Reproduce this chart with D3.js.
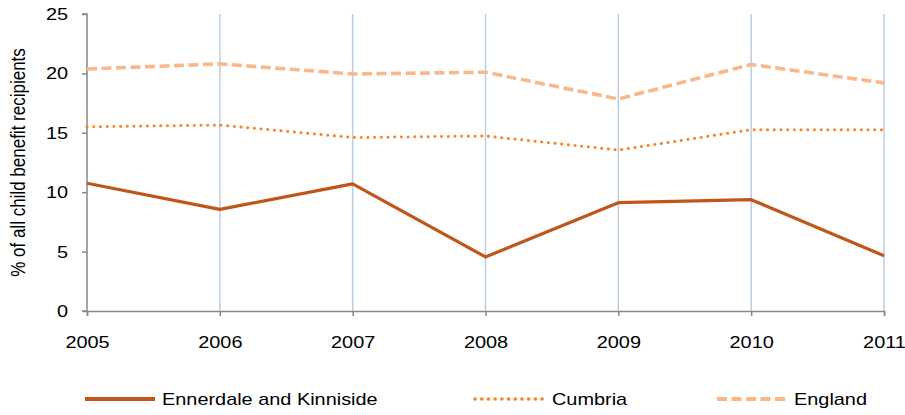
<!DOCTYPE html>
<html><head><meta charset="utf-8">
<script src="https://cdn.jsdelivr.net/npm/d3@7"></script>
<style>body{margin:0;background:#fff}svg{display:block;font-family:"Liberation Sans",Arial,sans-serif}</style>
</head><body><svg id="c" width="905" height="415"></svg>
<script>
const years = [2005, 2006, 2007, 2008, 2009, 2010, 2011];
const ennerdale = [10.75, 8.56, 10.7, 4.55, 9.12, 9.37, 4.65];
const cumbria = [15.5, 15.65, 14.6, 14.73, 13.55, 15.26, 15.26];
const england = [20.37, 20.8, 19.95, 20.1, 17.85, 20.75, 19.2];
const yTicks = [0, 5, 10, 15, 20, 25];
const seriesNames = ["Ennerdale and Kinniside", "Cumbria", "England"];
const yTitle = "% of all child benefit recipients";

const SX = 1.17; // horizontal text stretch seen in reference
const FS = "17px";
const svg = d3.select("#c");
const x = d3.scalePoint().domain(years).range([87, 884]);
const y = d3.scaleLinear().domain([0, 25]).range([311, 14]);

// vertical gridlines
svg.append("g").selectAll("line").data(years.slice(1)).join("line")
  .attr("x1", d => x(d)).attr("x2", d => x(d))
  .attr("y1", y(25)).attr("y2", y(0))
  .attr("stroke", "#b9cde5").attr("stroke-width", 1.5);

// axes
const yAxis = svg.append("g").attr("transform", `translate(${x(2005)},0)`)
  .call(d3.axisLeft(y).tickValues(yTicks).tickSize(5).tickPadding(11.2));
const xAxis = svg.append("g").attr("transform", `translate(0,${y(0)})`)
  .call(d3.axisBottom(x).tickSize(5).tickPadding(20).tickFormat(d3.format("d")));
[yAxis, xAxis].forEach(g => {
  g.select(".domain").attr("stroke", "#888").attr("stroke-width", 1.5);
  g.selectAll(".tick line").attr("stroke", "#888").attr("stroke-width", 1.5);
  g.selectAll(".tick text").attr("fill", "#000").style("font-size", FS)
    .style("font-family", '"Liberation Sans",Arial,sans-serif')
    .attr("transform", `scale(${SX},1)`);
});
yAxis.select(".domain").attr("d", `M-5,${y(25)}H0V${y(0)}H-5`);

svg.append("text").attr("transform", `translate(25,${(y(0)+y(25))/2}) scale(${SX},1) rotate(-90)`)
  .attr("text-anchor", "middle").style("font-size", FS).text(yTitle);

const styles = [
  {data: ennerdale, color: "#c0561c", width: 3.2, dash: null, cap: "butt"},
  {data: cumbria, color: "#f5842a", width: 3, dash: "0.1 6.6", cap: "round"},
  {data: england, color: "#f9b88c", width: 3.6, dash: "10 4.5", cap: "butt"}
];
const line = d3.line().x((d, i) => x(years[i])).y(d => y(d));
styles.slice().reverse().forEach(s => {
  svg.append("path").attr("d", line(s.data)).attr("fill", "none")
    .attr("stroke", s.color).attr("stroke-width", s.width)
    .attr("stroke-dasharray", s.dash).attr("stroke-linecap", s.cap)
    .attr("stroke-linejoin", "round");
});

// legend
const legX = [85, 475, 717];
const legY = 399;
styles.forEach((s, i) => {
  svg.append("line").attr("x1", legX[i]).attr("x2", legX[i] + 70)
    .attr("y1", legY).attr("y2", legY)
    .attr("stroke", s.color).attr("stroke-width", s.width + 0.6)
    .attr("stroke-dasharray", s.dash).attr("stroke-linecap", s.cap);
  svg.append("text").attr("transform", `translate(${legX[i] + 77},${legY + 6}) scale(${SX},1)`)
    .style("font-size", FS).text(seriesNames[i]);
});
</script></body></html>
